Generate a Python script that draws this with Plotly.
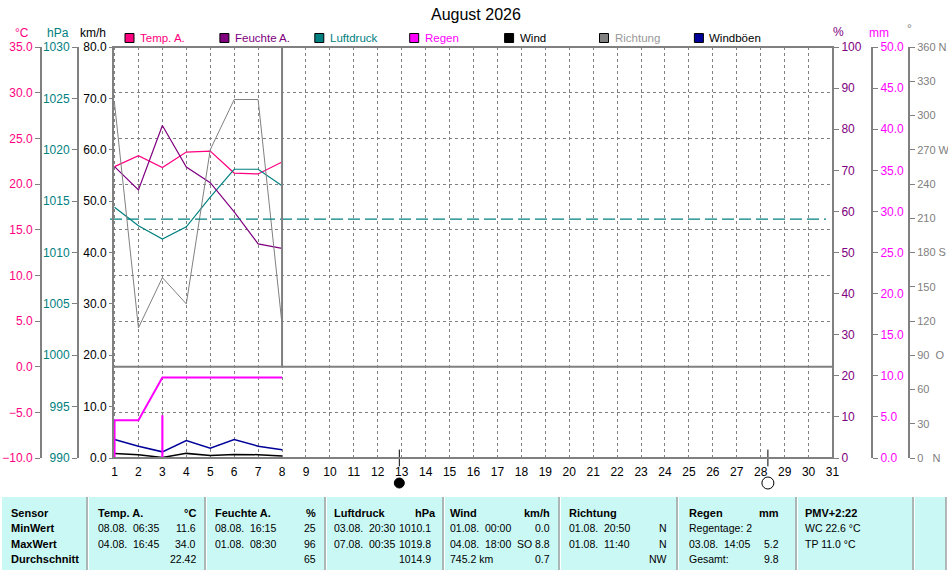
import plotly.graph_objects as go

# --- data (daily values, August 2026, days 1..8 recorded) ---
DAYS = [1, 2, 3, 4, 5, 6, 7, 8]
TEMP = [21.9, 23.1, 21.8, 23.5, 23.6, 21.2, 21.1, 22.4]
HUMIDITY = [70.9, 65.2, 80.9, 70.8, 67.0, 59.9, 52.1, 51.0]
PRESSURE = [1014.4, 1012.6, 1011.3, 1012.5, 1015.4, 1018.1, 1018.1, 1016.5]
DIRECTION = [311, 114, 158, 135, 270, 314, 314, 117]
WIND = [0.9, 0.65, 0.1, 0.9, 0.5, 0.7, 0.65, 0.4]
GUSTS = [3.6, 2.3, 1.2, 3.4, 1.9, 3.6, 2.3, 1.6]
RAIN_DAY = [4.6, 0, 5.2, 0, 0, 0, 0, 0]
RAIN_SUM = [4.6, 4.6, 9.8, 9.8, 9.8, 9.8, 9.8, 9.8]
MOON_NEW = [12.9]
MOON_FULL = [28.3]
PRESSURE_REF = 1013.25

TITLE = "August 2026"
LEGEND_NAMES = ["Temp. A.", "Feuchte A.", "Luftdruck", "Regen", "Wind", "Richtung", "Windböen"]

DIR_TICKS = [0, 30, 60, 90, 120, 150, 180, 210, 240, 270, 300, 330, 360]
DIR_LABELS = ["0\u00a0\u00a0\u00a0N", "30", "60", "90\u00a0\u00a0O", "120", "150", "180 S",
              "210", "240", "270 W", "300", "330", "360 N"]

# summary table
ROW_LABELS = ["Sensor", "MinWert", "MaxWert", "Durchschnitt"]
COL_HEADERS = ["Temp. A.", "Feuchte A.", "Luftdruck", "Wind", "Richtung", "Regen", "PMV+2:22"]
COL_UNITS = ["°C", "%", "hPa", "km/h", "", "mm", ""]
COL_LEFT = [
    ["08.08.\u00a0\u00a006:35", "04.08.\u00a0\u00a016:45", ""],
    ["08.08.\u00a0\u00a016:15", "01.08.\u00a0\u00a008:30", ""],
    ["03.08.\u00a0\u00a020:30", "07.08.\u00a0\u00a000:35", ""],
    ["01.08.\u00a0\u00a000:00", "04.08.\u00a0\u00a018:00", "745.2 km"],
    ["01.08.\u00a0\u00a020:50", "01.08.\u00a0\u00a011:40", ""],
    ["Regentage: 2", "03.08.\u00a0\u00a014:05", "Gesamt:"],
    ["WC 22.6 °C", "TP 11.0 °C", ""],
]
COL_RIGHT = [
    ["11.6", "34.0", "22.42"],
    ["25", "96", "65"],
    ["1010.1", "1019.8", "1014.9"],
    ["0.0", "SO 8.8", "0.7"],
    ["N", "N", "NW"],
    ["", "5.2", "9.8"],
    ["", "", ""],
]

PINK = "#FF0080"
PURPLE = "#800080"
TEAL = "#008080"
MAGENTA = "#FF00FF"
GRAY = "#808080"
NAVY = "#000099"
FONT = "Liberation Sans"

W, H = 948, 570


def px(x):
    return x / W


def py(y):
    return 1 - y / H


fig = go.Figure()

# moon phase ticks on the day axis
fig.add_trace(go.Scatter(x=MOON_NEW + MOON_FULL, y=[-10, -10], mode="markers", cliponaxis=False,
                         marker=dict(symbol="line-ns", size=12, line=dict(color="black", width=1)),
                         xaxis="x", yaxis="y", showlegend=False))
# moon phase symbols below the day labels (own small strip)
fig.add_trace(go.Scatter(x=MOON_NEW, y=[0.5], mode="markers", cliponaxis=False,
                         marker=dict(symbol="circle", size=10, color="black", line=dict(color="black", width=1)),
                         xaxis="x2", yaxis="y8", showlegend=False))
fig.add_trace(go.Scatter(x=MOON_FULL, y=[0.5], mode="markers", cliponaxis=False,
                         marker=dict(symbol="circle", size=12, color="white", line=dict(color="black", width=1)),
                         xaxis="x2", yaxis="y8", showlegend=False))

fig.add_trace(go.Scatter(x=DAYS, y=DIRECTION, mode="lines", line=dict(color=GRAY, width=1), yaxis="y7"))
fig.add_trace(go.Scatter(x=DAYS, y=PRESSURE, mode="lines", line=dict(color=TEAL, width=1.2), yaxis="y3"))
fig.add_trace(go.Scatter(x=DAYS, y=HUMIDITY, mode="lines", line=dict(color=PURPLE, width=1.2), yaxis="y5"))
fig.add_trace(go.Scatter(x=DAYS, y=TEMP, mode="lines", line=dict(color=PINK, width=1.2), yaxis="y2"))
fig.add_trace(go.Bar(x=DAYS, y=RAIN_DAY, width=0.09, marker=dict(color=MAGENTA, line=dict(width=0)), yaxis="y6"))
fig.add_trace(go.Scatter(x=DAYS, y=RAIN_SUM, mode="lines", line=dict(color=MAGENTA, width=2), yaxis="y6"))
fig.add_trace(go.Scatter(x=DAYS, y=GUSTS, mode="lines", line=dict(color=NAVY, width=1.5), yaxis="y4"))
fig.add_trace(go.Scatter(x=DAYS, y=WIND, mode="lines", line=dict(color="black", width=1.5), yaxis="y4"))

x_dom = [px(113), px(833)]
x_rng = [0.937, 31.02]
y_dom = [py(458), py(47)]
tick_font = dict(family=FONT, size=12)


def side_axis(pos, side, rng, dtick, color, fmt="", size=12, **kw):
    d = dict(overlaying="y", anchor="free", position=pos, side=side, range=rng, dtick=dtick,
             tick0=rng[0], tickformat=fmt, showline=True, linecolor=GRAY, linewidth=2,
             ticks="outside", ticklen=5, tickcolor=GRAY, tickwidth=1, automargin=False,
             tickfont=dict(family=FONT, size=size, color=color), showgrid=False, zeroline=False,
             fixedrange=True)
    d.update(kw)
    return d


fig.update_layout(
    width=W, height=H,
    autosize=False,
    margin=dict(l=0, r=0, t=0, b=0, pad=0, autoexpand=False),
    paper_bgcolor="white", plot_bgcolor="white",
    showlegend=False,
    font=dict(family=FONT, size=12, color="black"),
    xaxis=dict(domain=x_dom, range=x_rng, tickvals=list(range(1, 32)),
               showgrid=True, gridcolor=GRAY, griddash="3px,3px", gridwidth=1, automargin=False,
               zeroline=False, showline=False, ticks="", tickfont=tick_font, anchor="y",
               ticklabelstandoff=5, fixedrange=True),
    xaxis2=dict(domain=x_dom, range=x_rng, anchor="y8", visible=False, fixedrange=True),
    yaxis=dict(domain=y_dom, range=[-10, 35], dtick=5, tick0=-10, showgrid=True, gridcolor=GRAY,
               griddash="3px,3px", gridwidth=1, showticklabels=False, zeroline=False, ticks="",
               showline=False, fixedrange=True, automargin=False),
    yaxis2=side_axis(px(41), "left", [-10, 35], 5, PINK, ".1f"),
    yaxis3=side_axis(px(78), "left", [990, 1030], 5, TEAL),
    yaxis4=side_axis(px(113), "left", [0, 80], 10, "black", ".1f", ticklen=3),
    yaxis5=side_axis(px(833), "right", [0, 100], 10, PURPLE),
    yaxis6=side_axis(px(872), "right", [0, 50], 5, MAGENTA, ".1f"),
    yaxis7=side_axis(px(909), "right", [0, 360], 30, GRAY, size=11, tickvals=DIR_TICKS,
                     ticktext=DIR_LABELS),
    yaxis8=dict(domain=[py(493), py(473)], range=[0, 1], anchor="x2", visible=False, fixedrange=True),
)

shapes = []
# pressure reference line
shapes.append(dict(type="line", xref="paper", yref="y3", x0=px(110), x1=px(826), y0=PRESSURE_REF,
                   y1=PRESSURE_REF, line=dict(color=TEAL, width=1.2, dash="12px,5px"), layer="above"))
# plot frame, panel divider and current-day marker
shapes.append(dict(type="rect", xref="paper", yref="paper", x0=px(113), x1=px(833), y0=py(458), y1=py(47),
                   line=dict(color=GRAY, width=2)))
shapes.append(dict(type="line", xref="paper", yref="y", x0=px(113), x1=px(833), y0=0, y1=0,
                   line=dict(color=GRAY, width=2)))
shapes.append(dict(type="line", xref="x", yref="y", x0=DAYS[-1], x1=DAYS[-1], y0=0, y1=35,
                   line=dict(color=GRAY, width=2)))

annotations = []


def label(text, x, y, color="black", size=12, anchor="center"):
    annotations.append(dict(text=text, x=px(x), y=py(y), xref="paper", yref="paper",
                            xanchor=anchor, yanchor="middle", showarrow=False,
                            font=dict(family=FONT, size=size, color=color)))


label(TITLE, 476, 15, size=16)

# axis unit labels
for txt, x, y, col in [("°C", 22, 33, PINK), ("hPa", 58, 33, TEAL), ("km/h", 93, 33, "black"),
                       ("%", 838, 32, PURPLE), ("mm", 879, 33, MAGENTA), ("°", 909, 29, GRAY)]:
    label(txt, x, y, col)

# legend
leg_fill = [PINK, PURPLE, TEAL, MAGENTA, "black", GRAY, NAVY]
leg_text = [PINK, PURPLE, TEAL, MAGENTA, "black", "#999999", "black"]
for i, name in enumerate(LEGEND_NAMES):
    x0 = 125 + i * 94.9
    shapes.append(dict(type="rect", xref="paper", yref="paper", x0=px(x0), x1=px(x0 + 9),
                       y0=py(42.5), y1=py(33.5), fillcolor=leg_fill[i], line=dict(color="black", width=1)))
    label(name, x0 + 13, 38, leg_text[i], size=11.5, anchor="left")

# summary table
shapes.append(dict(type="rect", xref="paper", yref="paper", x0=px(2), x1=px(946), y0=py(570), y1=py(497),
                   fillcolor="#CAF8F5", line=dict(width=0), layer="below"))
for xs in [87, 205, 325, 443, 559, 677, 796, 913, 946]:
    shapes.append(dict(type="line", xref="paper", yref="paper", x0=px(xs), x1=px(xs), y0=py(570), y1=py(497),
                       line=dict(color="#A0A0A0", width=1.5)))
    shapes.append(dict(type="line", xref="paper", yref="paper", x0=px(xs + 1.5), x1=px(xs + 1.5),
                       y0=py(570), y1=py(497), line=dict(color="white", width=1)))

row_y = [513, 528, 543.5, 559]
col_l = [96, 213, 332, 448, 567, 687, 803]
col_unit_r = [198, 318, 438, 552, 669, 781, 0]
col_val_r = [198, 318, 433, 552, 669, 781, 0]

for r, lab in enumerate(ROW_LABELS):
    label(f"<b>{lab}</b>", 9, row_y[r], size=11, anchor="left")
for c, head in enumerate(COL_HEADERS):
    label(f"<b>{head}</b>", col_l[c], row_y[0], size=11, anchor="left")
    if COL_UNITS[c]:
        label(f"<b>{COL_UNITS[c]}</b>", col_unit_r[c], row_y[0], size=11, anchor="right")
    for r in range(3):
        if COL_LEFT[c][r]:
            label(COL_LEFT[c][r], col_l[c], row_y[r + 1], size=10.5, anchor="left")
        if COL_RIGHT[c][r]:
            label(COL_RIGHT[c][r], col_val_r[c], row_y[r + 1], size=10.5, anchor="right")

fig.update_layout(shapes=shapes, annotations=annotations)
fig.write_html("out.html", config={"displayModeBar": False},
               post_script="document.body.style.margin='0';")
